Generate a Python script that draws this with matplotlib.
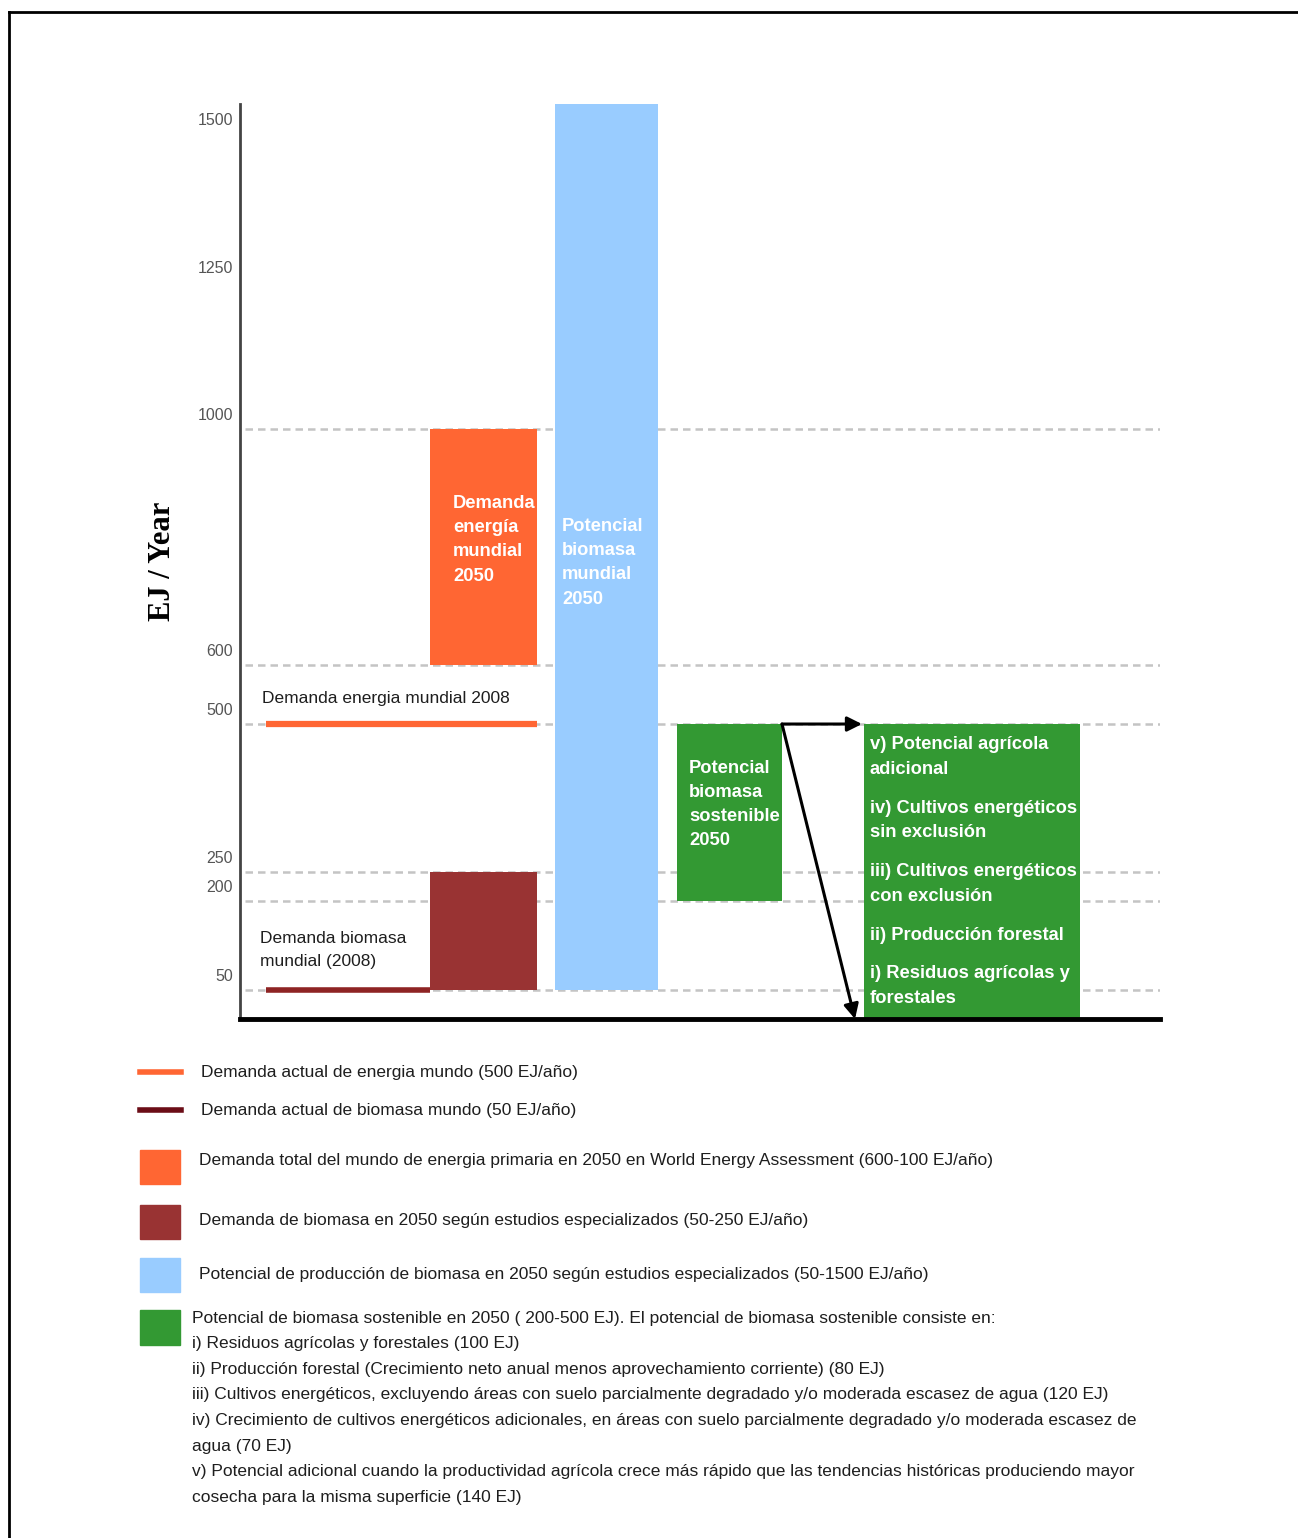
import matplotlib
matplotlib.use("Agg")
import matplotlib.pyplot as plt
import matplotlib.transforms as mtransforms
from matplotlib.patches import Rectangle
from matplotlib.lines import Line2D

# data (EJ / año)
ticks = [50, 200, 250, 500, 600, 1000, 1250, 1500]
grid_levels = [50, 200, 250, 500, 600, 1000]
demanda_2008 = 500
biomasa_2008 = 50
demanda_2050 = (600, 1000)
biomasa_2050 = (50, 250)
potencial_mundial = (50, 1500)
potencial_sostenible = (200, 500)
componentes = (0, 500)

txt_demanda_2050 = "Demanda\nenergía\nmundial\n2050"
txt_potencial = "Potencial\nbiomasa\nmundial\n2050"
txt_sostenible = "Potencial\nbiomasa\nsostenible\n2050"
txt_componentes = [
    "v) Potencial agrícola\nadicional",
    "iv) Cultivos energéticos\nsin exclusión",
    "iii) Cultivos energéticos\ncon exclusión",
    "ii) Producción forestal",
    "i) Residuos agrícolas y\nforestales",
]
leyenda = [
    "Demanda actual de energia mundo (500 EJ/año)",
    "Demanda actual de biomasa mundo (50 EJ/año)",
    "Demanda total del mundo de energia primaria en 2050 en World Energy Assessment (600-100 EJ/año)",
    "Demanda de biomasa en 2050 según estudios especializados (50-250 EJ/año)",
    "Potencial de producción de biomasa en 2050 según estudios especializados (50-1500 EJ/año)",
]
leyenda_verde = [
    "Potencial de biomasa sostenible en 2050 ( 200-500 EJ). El potencial de biomasa sostenible consiste en:",
    "i) Residuos agrícolas y forestales (100 EJ)",
    "ii) Producción forestal (Crecimiento neto anual menos aprovechamiento corriente) (80 EJ)",
    "iii) Cultivos energéticos, excluyendo áreas con suelo parcialmente degradado y/o moderada escasez de agua (120 EJ)",
    "iv) Crecimiento de cultivos energéticos adicionales, en áreas con suelo parcialmente degradado y/o moderada escasez de",
    "agua (70 EJ)",
    "v) Potencial adicional cuando la productividad agrícola crece más rápido que las tendencias históricas produciendo mayor",
    "cosecha para la misma superficie (140 EJ)",
]

ORANGE = "#ff6633"
DARKRED = "#993333"
LINERED = "#6b0d17"
BLUE = "#99ccff"
GREEN = "#339933"
SANS = ["Liberation Sans", "DejaVu Sans"]

W, H = 1298, 1538
fig = plt.figure(figsize=(W / 100, H / 100), dpi=100)
fig.patch.set_facecolor("white")


def px(x, y):
    return x / W, 1 - y / H


ax = fig.add_axes([240 / W, 1 - 1019 / H, 920 / W, 915 / H])
ax.set_xlim(0, 920)
ax.set_ylim(0, 1551)

for lv in grid_levels:
    ax.axhline(lv, xmin=5 / 920, xmax=1, color="#c4c4c4", lw=1.8,
               ls=(0, (3, 2)), zorder=0)

# bars
ax.bar(190, demanda_2050[1] - demanda_2050[0], bottom=demanda_2050[0], width=107,
       align="edge", color=ORANGE, zorder=2)
ax.bar(190, biomasa_2050[1] - biomasa_2050[0], bottom=biomasa_2050[0], width=107,
       align="edge", color=DARKRED, zorder=2)
ax.bar(315, ax.get_ylim()[1] - potencial_mundial[0], bottom=potencial_mundial[0],
       width=103, align="edge", color=BLUE, zorder=2)
ax.bar(437, potencial_sostenible[1] - potencial_sostenible[0],
       bottom=potencial_sostenible[0], width=105, align="edge", color=GREEN, zorder=2)
ax.bar(624, componentes[1] - componentes[0], bottom=componentes[0], width=216,
       align="edge", color=GREEN, zorder=2)

# current demand lines
ax.plot([26, 297], [demanda_2008] * 2, color=ORANGE, lw=4.5, solid_capstyle="butt", zorder=3)
ax.plot([26, 190], [biomasa_2008] * 2, color="#8e2424", lw=4, solid_capstyle="butt", zorder=3)

# arrows
arrow = dict(arrowstyle="-|>", color="black", lw=2.2, mutation_scale=22,
             shrinkA=0, shrinkB=0)
ax.annotate("", xy=(622, potencial_sostenible[1]), xytext=(542, potencial_sostenible[1]),
            arrowprops=arrow, zorder=5)
ax.annotate("", xy=(615, componentes[0]), xytext=(542, potencial_sostenible[1]),
            arrowprops=arrow, zorder=5, annotation_clip=False)

# text in bars
bold = dict(color="white", fontweight="bold", family=SANS, fontsize=13.2,
            va="top", ha="left", zorder=6)
ax.text(213, 888, txt_demanda_2050, linespacing=1.55, **bold)
ax.text(322, 849, txt_potencial, linespacing=1.55, **bold)
ax.text(449, 439, txt_sostenible, linespacing=1.55, **bold)
top = 480
for t in txt_componentes:
    ax.text(630, top, t, linespacing=1.6, **bold)
    top -= 44 * (t.count("\n") + 1) + 20

plain = dict(color="#1e1e1e", family=SANS, fontsize=12.5)
ax.text(22, 544, "Demanda energia mundial 2008", va="center", **plain)
ax.text(20, 117, "Demanda biomasa\nmundial (2008)", va="center", linespacing=1.65, **plain)

# axes style
for s in ["top", "right"]:
    ax.spines[s].set_visible(False)
ax.spines["left"].set_color("#444444")
ax.spines["left"].set_linewidth(2)
ax.spines["bottom"].set_color("black")
ax.spines["bottom"].set_linewidth(3.5)
ax.set_xticks([])
ax.set_yticks(ticks)
ax.set_yticklabels([str(t) for t in ticks], family=SANS, fontsize=11.5, color="#555555")
ax.tick_params(axis="y", length=0, pad=5)
shift = mtransforms.ScaledTranslation(0, 0.15, fig.dpi_scale_trans)
for lab in ax.get_yticklabels():
    lab.set_transform(lab.get_transform() + shift)
ax.set_ylabel("EJ / Year", family=["Liberation Serif", "DejaVu Serif"],
              fontweight="bold", fontsize=22)
ax.yaxis.set_label_coords(-0.068, 0.5)

# legend
lines = [(1072, ORANGE, 4), (1110, LINERED, 4)]
for (y, c, lw), t in zip(lines, leyenda[:2]):
    fig.add_artist(Line2D([140 / W, 181 / W], [1 - y / H] * 2, color=c, lw=lw,
                          transform=fig.transFigure))
    fig.text(*px(201, y), t, va="center", **plain)

patches = [(1150, ORANGE, 1161), (1205, DARKRED, 1221), (1258, BLUE, 1274)]
for (y, c, ty), t in zip(patches, leyenda[2:]):
    fig.add_artist(Rectangle(px(140, y + 34), 40 / W, 34 / H, color=c,
                             transform=fig.transFigure))
    fig.text(*px(199, ty), t, va="center", **plain)

fig.add_artist(Rectangle(px(140, 1345), 40 / W, 35 / H, color=GREEN,
                         transform=fig.transFigure))
for i, t in enumerate(leyenda_verde):
    fig.text(*px(192, 1318 + i * 25.6), t, va="center", **plain)

# page border
fig.add_artist(Line2D([9 / W, 9 / W], [0, 1 - 12 / H], color="black", lw=2,
                      transform=fig.transFigure))
fig.add_artist(Line2D([9 / W, 1], [1 - 12 / H] * 2, color="black", lw=2,
                      transform=fig.transFigure))

fig.savefig("out.png", dpi=100)
